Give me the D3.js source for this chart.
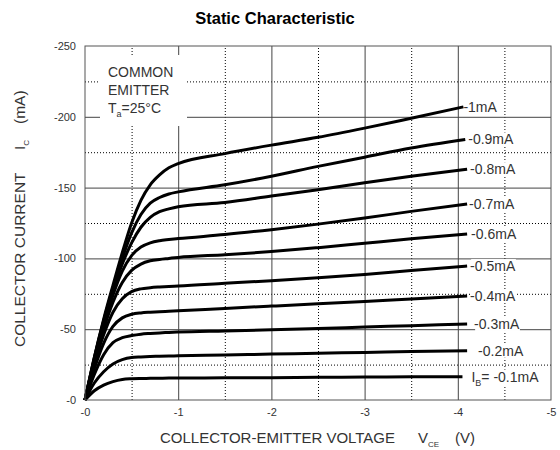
<!DOCTYPE html>
<html><head><meta charset="utf-8">
<script src="https://cdn.jsdelivr.net/npm/d3@7/dist/d3.min.js"></script>
<style>
body{margin:0;background:#fff;}
svg{display:block;}
text{font-family:"Liberation Sans",Arial,Helvetica,sans-serif;}
</style>
</head><body>
<svg id="chart" width="560" height="450"></svg>
<script>
// ---------- data ----------
const titleText = "Static Characteristic";
const vce = [0, -0.1, -0.2, -0.3, -0.4, -0.5, -0.6, -0.7, -0.8, -0.9, -1.0, -1.5, -2.0, -2.5, -3.0, -3.5];
const endVce = [-4.06, -4.08, -4.1, -4.1, -4.1, -4.1, -4.1, -4.1, -4.1, -4.05];
const ibLabels = ["-1mA", "-0.9mA", "-0.8mA", "-0.7mA", "-0.6mA", "-0.5mA", "-0.4mA", "-0.3mA", "-0.2mA", "-0.1mA"];
const ic10 = [0, -30, -57, -81, -104, -125, -141, -152, -159, -164, -167, -174, -180, -185.5, -192, -199, -207];
const ic09 = [0, -30, -56, -79, -100, -118, -131, -139, -143, -145.5, -147, -152, -158, -165, -171.5, -178, -184];
const ic08 = [0, -29, -55, -77, -96, -111, -122, -129, -133, -135, -136.5, -139.5, -144, -148.5, -153.5, -158, -163];
const ic07 = [0, -28, -53, -74, -91, -102, -108, -111, -112.5, -113.3, -114, -116.8, -120.3, -124.2, -128.5, -133.2, -138.4];
const ic06 = [0, -27, -50, -69, -83, -91.5, -96, -98.3, -99.3, -100, -100.7, -102.6, -104.8, -107.6, -110.7, -113.8, -117.2];
const ic05 = [0, -25, -46, -62, -71.5, -76.5, -78.5, -79.3, -79.8, -80.2, -80.5, -82.4, -84.3, -86.4, -88.7, -91.4, -94.6];
const ic04 = [0, -22, -40, -52, -58, -60.5, -61.5, -62, -62.4, -62.7, -63, -64.7, -66.3, -67.9, -69.6, -71.4, -73.4];
const ic03 = [0, -18, -32, -40.5, -44, -45.5, -46.5, -47, -47.4, -47.7, -48, -48.8, -49.6, -50.5, -51.5, -52.5, -53.7];
const ic02 = [0, -12, -20, -25.5, -28.5, -30, -30.4, -30.7, -30.9, -31.1, -31.2, -31.8, -32.4, -33, -33.6, -34.2, -34.8];
const ic01 = [0, -6.5, -10.5, -13, -14.5, -15, -15.2, -15.3, -15.4, -15.5, -15.5, -15.7, -15.8, -16, -16.2, -16.4, -16.5];
const xTicks = [0, -1, -2, -3, -4, -5];
const xTickLabels = ["-0", "-1", "-2", "-3", "-4", "-5"];
const yTicks = [0, -50, -100, -150, -200, -250];
const yTickLabels = ["-0", "-50", "-100", "-150", "-200", "-250"];
const xMinor = [-0.5, -1.5, -2.5, -3.5, -4.5];
const yMinor = [-25, -75, -125, -175, -225];
const noteLines = ["COMMON", "EMITTER"];

// ---------- layout ----------
const svg = d3.select("#chart");
const L = 85, R = 551, T = 46, B = 400;
const x = d3.scaleLinear().domain([0, -5]).range([L, R]);
const y = d3.scaleLinear().domain([0, -250]).range([B, T]);
const W = R - L, H = B - T;

// title
svg.append("text").attr("x", 275).attr("y", 24).attr("text-anchor", "middle")
  .attr("font-size", 16.5).attr("font-weight", "bold").attr("fill", "#000").text(titleText);

const plot = svg.append("g");

// minor dotted grid
plot.append("g").attr("transform", `translate(0,${B})`)
  .call(d3.axisBottom(x).tickValues(xMinor).tickSize(-H).tickFormat(""))
  .call(g => { g.select(".domain").remove(); g.selectAll("line").attr("stroke", "#000").attr("stroke-dasharray", "1,2"); });
plot.append("g").attr("transform", `translate(${L},0)`)
  .call(d3.axisLeft(y).tickValues(yMinor).tickSize(-W).tickFormat(""))
  .call(g => { g.select(".domain").remove(); g.selectAll("line").attr("stroke", "#000").attr("stroke-dasharray", "1,2"); });

// major solid grid
plot.append("g").attr("transform", `translate(0,${B})`)
  .call(d3.axisBottom(x).tickValues(xTicks.slice(1, 5)).tickSize(-H).tickFormat(""))
  .call(g => { g.select(".domain").remove(); g.selectAll("line").attr("stroke", "#444"); });
plot.append("g").attr("transform", `translate(${L},0)`)
  .call(d3.axisLeft(y).tickValues(yTicks.slice(1, 5)).tickSize(-W).tickFormat(""))
  .call(g => { g.select(".domain").remove(); g.selectAll("line").attr("stroke", "#444"); });

// tick labels
svg.append("g").attr("transform", `translate(0,${B})`)
  .call(d3.axisBottom(x).tickValues(xTicks).tickSize(0).tickPadding(8).tickFormat((d, i) => xTickLabels[i]))
  .call(g => { g.select(".domain").remove(); g.selectAll("text").attr("font-size", 11).attr("fill", "#333").attr("font-family", '"Liberation Sans",Arial,sans-serif'); });
svg.append("g").attr("transform", `translate(${L},0)`)
  .call(d3.axisLeft(y).tickValues(yTicks).tickSize(0).tickPadding(9).tickFormat((d, i) => yTickLabels[i]))
  .call(g => { g.select(".domain").remove(); g.selectAll("text").attr("font-size", 11).attr("fill", "#333").attr("font-family", '"Liberation Sans",Arial,sans-serif'); });

// annotation box
svg.append("rect").attr("x", 100).attr("y", 55).attr("width", 87).attr("height", 71).attr("fill", "#fff");
const note = svg.append("g").attr("fill", "#333").attr("font-size", 14);
note.append("text").attr("x", 108).attr("y", 77).text(noteLines[0]);
note.append("text").attr("x", 108).attr("y", 95).text(noteLines[1]);
const tnote = note.append("text").attr("x", 108).attr("y", 113);
tnote.append("tspan").text("T");
tnote.append("tspan").attr("font-size", 9).attr("dy", 4).text("a");
tnote.append("tspan").attr("dy", -4).text("=25°C");

// curves
const series = [ic10, ic09, ic08, ic07, ic06, ic05, ic04, ic03, ic02, ic01];
const line = d3.line().x(d => x(d[0])).y(d => y(d[1])).curve(d3.curveMonotoneX);
const labelDx = [0, 3, 3, 2, 4, 3, 3, 7, 11, 9];
series.forEach((s, i) => {
  const pts = vce.map((v, j) => [v, s[j]]).concat([[endVce[i], s[s.length - 1]]]);
  plot.append("path").datum(pts).attr("d", line).attr("fill", "none")
    .attr("stroke", "#000").attr("stroke-width", 3).attr("stroke-linejoin", "round");
});

// curve labels
series.forEach((s, i) => {
  const lx = x(endVce[i]) + labelDx[i];
  const ly = y(s[s.length - 1]);
  const g = svg.append("g");
  const t = g.append("text").attr("x", lx).attr("y", ly + 5).attr("font-size", 14).attr("fill", "#333");
  if (i === series.length - 1) {
    t.append("tspan").text("I");
    t.append("tspan").attr("font-size", 9).attr("dy", 4).text("B");
    t.append("tspan").attr("dy", -4).text("= " + ibLabels[i]);
  } else {
    t.text(ibLabels[i]);
  }
  const bb = t.node().getBBox();
  g.insert("rect", "text").attr("x", bb.x + 1).attr("y", bb.y + 1).attr("width", bb.width - 1).attr("height", bb.height - 2).attr("fill", "#fff");
});

// frame
svg.append("rect").attr("x", L).attr("y", T).attr("width", W).attr("height", H)
  .attr("fill", "none").attr("stroke", "#555").attr("stroke-width", 1);

// axis titles
const xt = svg.append("text").attr("y", 443).attr("font-size", 15).attr("fill", "#333");
xt.append("tspan").attr("x", 160).text("COLLECTOR-EMITTER VOLTAGE");
xt.append("tspan").attr("x", 418).text("V");
xt.append("tspan").attr("font-size", 8).attr("dy", 4).text("CE");
xt.append("tspan").attr("x", 455).attr("dy", -4).text("(V)");

const yt = svg.append("text").attr("transform", "translate(25,0) rotate(-90)").attr("font-size", 15.5).attr("fill", "#333");
yt.append("tspan").attr("x", -347).text("COLLECTOR CURRENT");
yt.append("tspan").attr("x", -150).text("I");
yt.append("tspan").attr("font-size", 8).attr("dy", 4).text("C");
yt.append("tspan").attr("x", -124).attr("dy", -4).text("(mA)");
</script>
</body></html>
